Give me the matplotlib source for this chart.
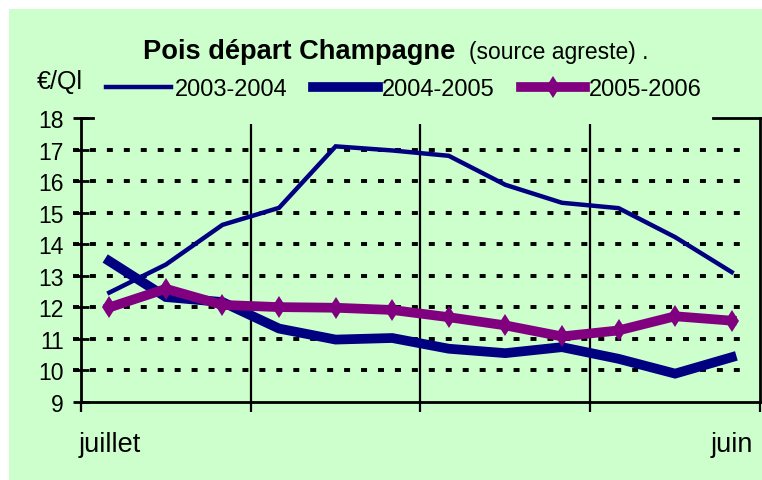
import numpy as np
import matplotlib
matplotlib.use('Agg')
import matplotlib.pyplot as plt
from matplotlib.patches import Rectangle
from matplotlib.lines import Line2D

plt.rcParams['font.family'] = ['Liberation Sans', 'DejaVu Sans']
plt.rcParams['lines.scale_dashes'] = False

# ---- data ----
x_labels = ["juillet", "", "", "", "", "", "", "", "", "", "", "juin"]
series_names = ["2003-2004", "2004-2005", "2005-2006"]
s2003 = [12.47, 13.36, 14.62, 15.16, 17.11, 16.98, 16.81, 15.89, 15.32, 15.15, 14.23, 13.12]
s2004 = [13.47, 12.33, 12.17, 11.33, 10.98, 11.03, 10.69, 10.55, 10.74, 10.37, 9.90, 10.42]
s2005 = [12.00, 12.59, 12.08, 12.01, 11.99, 11.92, 11.69, 11.43, 11.08, 11.27, 11.72, 11.58]
y_ticks = list(range(9, 19))
y_grid = list(range(10, 18))
v_grid = [3.5, 6.5, 9.5]

W, H = 762, 481
GREEN = '#CCFFCC'
NAVY = '#000080'
PURPLE = '#800080'

fig = plt.figure(figsize=(W / 100, H / 100), dpi=100, facecolor='white')
fig.patches.append(Rectangle((9 / W, 0), 1 - 9 / W, 1 - 10 / H, transform=fig.transFigure,
                             facecolor=GREEN, edgecolor='none', zorder=-10))

ax = fig.add_axes([81 / W, (H - 403) / H, (760 - 81) / W, (403 - 119.3) / H])
ax.set_facecolor('none')
x = np.arange(1, 13)
ax.set_xlim(0.5, 12.5)
ax.set_ylim(9, 18)

# dotted horizontal gridlines
ax.hlines(y_grid, 0.5 - 8 / 56.6, 12.32, colors='black', linewidth=2.8,
          linestyles=[(0, (4.3, 7.9))], zorder=1, clip_on=False)
# vertical gridlines
ax.vlines(v_grid, 9, 9 + (403 - 125) / 31.5, colors='black', linewidth=1.6, zorder=1)

l1, = ax.plot(x, s2003, color=NAVY, linewidth=3.2, zorder=3, solid_joinstyle='miter')
l2, = ax.plot(x, s2004, color=NAVY, linewidth=7, zorder=4, solid_joinstyle='miter')
l3, = ax.plot(x, s2005, color=PURPLE, linewidth=7, marker='d', markersize=11.5,
              markeredgewidth=0, zorder=5)

# spines
for s in ['left', 'bottom', 'right']:
    ax.spines[s].set_linewidth(2)
    ax.spines[s].set_color('black')
ax.spines['top'].set_visible(False)
ax.add_line(Line2D([(713 - 81) / 679, 1.0], [1, 1], transform=ax.transAxes, color='black',
                   linewidth=2, clip_on=False))
ax.add_line(Line2D([0, 12 / 679], [1, 1], transform=ax.transAxes, color='black',
                   linewidth=2, clip_on=False))

ax.set_yticks(y_ticks)
ax.tick_params(axis='y', direction='inout', length=11.5, width=2, labelsize=16.5, pad=6.5,
               colors='black')
ax.set_xticks(x)
ax.set_xticklabels(x_labels)
ax.set_xticks([0.5, 3.5, 6.5, 9.5, 12.5], minor=True)
ax.tick_params(axis='x', which='major', length=0, labelsize=19.5, pad=21)
ax.tick_params(axis='x', which='minor', direction='out', length=7, width=1.6)

fig.text(143 / W, 1 - 59.3 / H, "Pois départ Champagne", fontsize=19.6, fontweight='bold',
         ha='left', va='baseline')
fig.text(469 / W, 1 - 59 / H, "(source agreste) .", fontsize=16.5, ha='left', va='baseline')
fig.text(37 / W, 1 - 89 / H, "€/Ql", fontsize=18, ha='left', va='baseline')

fig.legend([l1, l2, l3], series_names, loc='center', bbox_to_anchor=(404 / W, 1 - 90 / H),
           ncol=3, frameon=False, fontsize=17, handlelength=2.75, handletextpad=0.15,
           columnspacing=1.1, borderpad=0, borderaxespad=0, numpoints=1)

fig.savefig('out.png', dpi=100, facecolor='white')
